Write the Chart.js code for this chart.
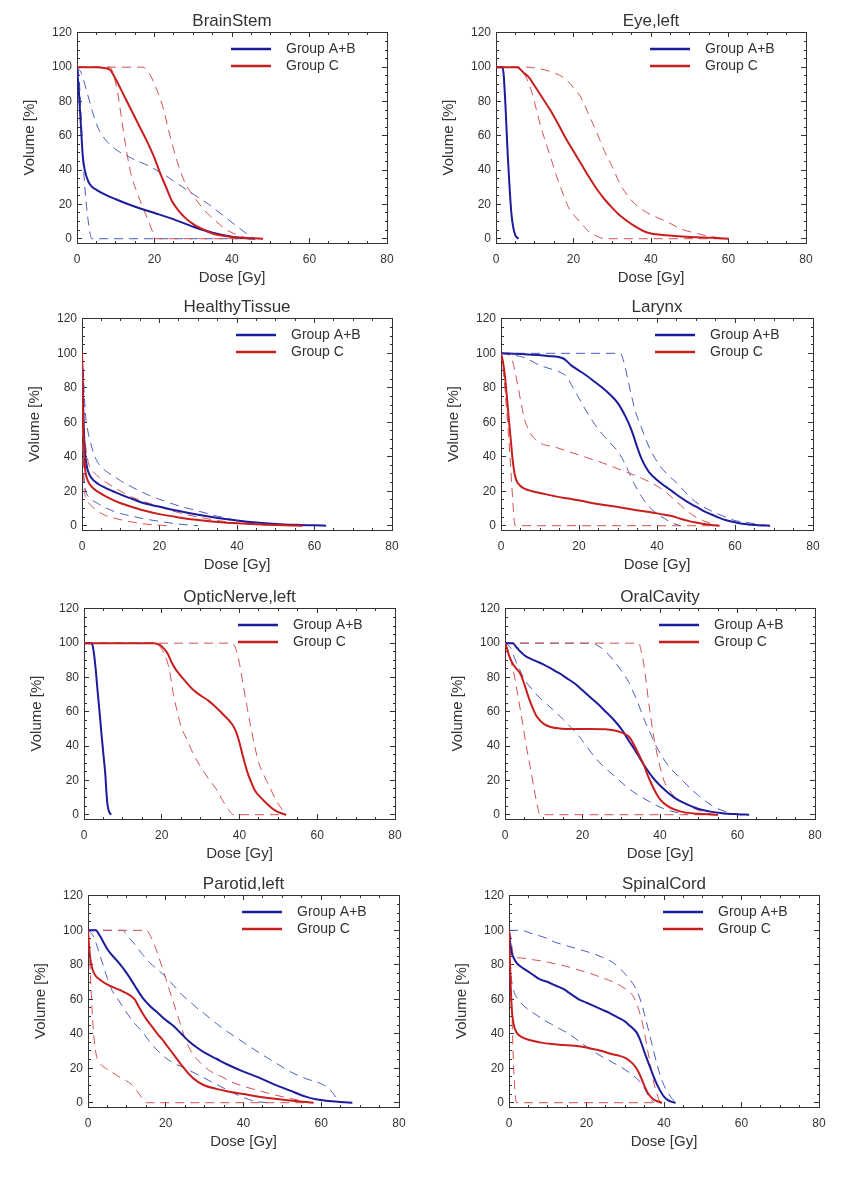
<!DOCTYPE html>
<html>
<head>
<meta charset="utf-8">
<title>DVH per organ</title>
<script src="https://cdn.jsdelivr.net/npm/chart.js@4.4.0/dist/chart.umd.min.js"></script>
<style>
  html, body { margin: 0; padding: 0; background: #fff; }
  #page { position: relative; width: 855px; height: 1177px; }
  #page canvas { position: absolute; }
</style>
</head>
<body>
<div id="page"></div>
<script>
// --- DATA: each curve is a list of [dose Gy, volume %] ---
// mean = solid line, lo / hi = dashed envelope

const brainStemMeanAB = [[0,100],[0.5,85],[1,66],[1.5,48],[2,40],[3,33],[4,30],[5,28.5],[7,26],[10,23],[15,18.6],[20,15],[25,11.3],[30,7],[35,3.5],[40,1.2],[44,0.2],[46,0]];
const brainStemLoAB = [[0,100],[0.5,95],[1,75],[1.6,44],[2.2,25],[2.8,12],[3.3,4],[3.8,0],[46,0]];
const brainStemHiAB = [[0,100],[1,97],[2,90],[3,82],[4,74],[5,67],[6,62],[8,56],[10,52],[14,47],[18,43],[22,38],[26,32],[30,26],[34,20],[38,13],[42,6],[45,1],[46,0]];
const brainStemMeanC = [[0,100],[5,100],[7,99.5],[8.5,98.5],[10,93],[12,84],[14,75],[16,66],[18,57],[20,47],[21.5,38],[23,30],[24.5,22],[26,17],[28,12],[30,8.5],[32,6],[35,3],[40,1],[45,0.3],[48,0]];
const brainStemLoC = [[0,100],[8.5,100],[9.5,95],[10.5,85],[11.5,70],[12.5,55],[14,37],[15.5,27],[17,18],[18.5,10],[19.5,4],[20.2,0],[48,0]];
const brainStemHiC = [[0,100],[17,100],[18.5,97],[20,90],[22,78],[24,60],[26,44],[28,32],[30,25],[32,19],[34,14],[36,10],[38,6],[40,3.5],[43,1],[45,0]];

const eyeMeanAB = [[0,100],[1.7,100],[2,95],[2.5,75],[3,50],[3.5,30],[4,14],[4.5,6],[5,2],[5.8,0]];
const eyeMeanC = [[0,100],[5.5,100],[7,97],[8.5,94],[10,89],[12,82],[14,75],[16,67],[18,58.5],[20,51],[22,43.5],[24,36],[26,29],[28,23],[30,18],[32,13.5],[34,10],[36,7],[38,4.5],[40,3],[44,2],[50,1],[56,0.5],[60,0]];
const eyeLoC = [[0,100],[4.9,100],[6,99],[7,97],[8,93],[9,87],[10,79],[11,70],[12,62],[13,55],[14,48],[15,41],[16,34],[17,28],[18,22],[19,17],[20,14],[22,9],[24,4],[26,1.5],[28,0],[60,0]];
const eyeHiC = [[0,100],[8,100],[10,99.5],[14,97.5],[18,93],[20,88],[22,82],[24,72],[26,62],[28,51],[30,42],[32,32],[34,25],[36,20],[38,16.5],[40,14],[44,10],[48,5.5],[52,3],[56,1],[60,0]];

const healthyMeanAB = [[0,100],[0.2,80],[0.4,60],[0.7,45],[1,38],[1.5,32],[2.5,27.5],[4,24.5],[6,22],[8,20],[10,18],[13,15.5],[16,13],[20,11],[25,8.5],[30,6.3],[35,4.5],[40,3],[45,1.8],[50,1],[55,0.5],[60,0.2],[63,0]];
const healthyLoAB = [[0,100],[0.2,60],[0.4,35],[0.7,24],[1,20],[2,16],[4,13],[6,10.5],[8,8.5],[10,7],[13,5.5],[16,4],[20,2.5],[24,1.2],[28,0.3],[30,0]];
const healthyHiAB = [[0,100],[0.3,90],[0.6,75],[1,62],[1.5,55],[2,50],[3,42],[4,37],[6,32],[8,29],[10,26],[12,23.5],[15,20],[18,17],[21,14.5],[25,11.5],[30,8.5],[35,5.5],[40,3],[45,1.2],[50,0.3],[55,0]];
const healthyMeanC = [[0,100],[0.2,70],[0.5,45],[0.8,33],[1.2,28],[2,24],[3,21.5],[5,18.5],[7,16],[10,13],[13,10.8],[16,8.8],[20,6.7],[25,4.8],[30,3.3],[35,2.2],[40,1.4],[45,0.8],[50,0.4],[55,0.1],[57,0]];
const healthyLoC = [[0,100],[0.2,50],[0.4,28],[0.7,19],[1,16],[2,12.5],[4,8.5],[6,6],[9,4],[12,2.5],[16,1],[20,0.3],[22,0]];
const healthyHiC = [[0,100],[0.3,75],[0.6,55],[1,45],[1.5,38],[2,34],[3,31],[5,27],[7,24],[10,20],[13,16.5],[16,14],[20,11],[25,7.5],[30,5],[35,3],[40,1.5],[45,0.6],[50,0.2],[55,0]];

const larynxMeanAB = [[0,100],[6,99.5],[12,98.5],[16,97],[18,93],[20,90],[22,87],[24,83.5],[26,80],[28,76],[30,71],[32,63],[33,58],[34,52],[35,45],[36,39],[37,34.5],[38,31],[40,26.5],[42,23],[44,19.8],[46,16.5],[48,13.5],[50,11],[52,8.5],[54,6.5],[56,4.5],[58,3],[60,2],[63,0.8],[66,0.3],[69,0]];
const larynxLoAB = [[0,100],[3,99],[6,97.5],[10,93],[14,90],[16,88],[17,86],[18,82],[20,74],[22,66],[24,59],[26,53],[28,48],[30,43],[32,35],[34,25],[36,17],[38,11],[40,7],[42,4],[44,1.5],[46,0]];
const larynxHiAB = [[0,100],[30.5,100],[31.5,95],[32.5,85],[33.5,75],[34.5,66],[36,57],[37.5,48],[39,41],[41,34],[43,29],[45,25],[47,20],[49,15.5],[51,12],[54,8.5],[57,5.5],[60,3],[64,1.5],[67,0.5],[69,0]];
const larynxMeanC = [[0,100],[0.5,95],[1,87],[1.5,75],[2,62],[2.5,50],[3,38],[3.5,30],[4,26],[5,23],[6,21.5],[8,20],[10,19],[14,17],[18,15.5],[22,13.8],[26,12.2],[30,10.8],[34,9.3],[38,8],[42,6.3],[44,5.5],[46,4],[48,2.8],[50,1.8],[52,1],[54,0.4],[56,0]];
const larynxLoC = [[0,100],[0.5,92],[1,80],[1.5,65],[2,50],[2.5,33],[3,15],[3.4,3],[3.6,0],[56,0]];
const larynxHiC = [[0,100],[2,99],[3,95],[4,85],[5,73],[6,62],[7,56],[8,52],[10,48],[14,45.5],[18,42.5],[22,39.5],[26,36.5],[30,33],[34,29.5],[38,25.5],[40,23],[42,20],[44,16],[46,12],[48,8],[50,5],[52,2.8],[54,1],[56,0]];

const opticMeanAB = [[0,100],[2,100],[2.5,95],[3,85],[3.5,72],[4,60],[4.5,47],[5,35],[5.5,23],[5.8,12],[6.1,5],[6.5,1.5],[7,0]];
const opticMeanC = [[0,100],[18,100],[19.5,99],[20.5,97],[21.5,94],[22.5,89],[23.5,85],[24.5,82],[26,78],[28,73],[30,69.5],[32,66.5],[34,62.5],[36,58],[38,53],[39,49],[40,42],[41,33],[42,25],[43,19],[44,14],[45.5,10],[47,6.5],[48.5,3.5],[50,1.5],[52,0]];
const opticLoC = [[0,100],[18,100],[19.5,98],[21,92],[22,84],[23,70],[24,60],[25,51],[26.5,44],[28,36],[30,28],[32,21],[34,15],[35.5,9],[37,3.5],[38.5,0],[52,0]];
const opticHiC = [[0,100],[38,100],[39,97],[40,88],[41,75],[42,62],[43,50],[44,39],[45,30],[46.5,22],[48,15],[49.5,8],[51,3],[52,0]];

const oralMeanAB = [[0,100],[2,100],[3,97.5],[4,95],[5,93],[6,91.5],[8,89.5],[10,87.5],[12,85],[14,82.5],[16,79.5],[18,76.5],[20,72.5],[22,68.5],[24,64.5],[26,60],[28,55.5],[30,50],[32,43],[34,36],[36,28.5],[38,22],[40,17],[42,13],[44,9.5],[46,7],[48,5],[50,3.3],[53,1.8],[56,0.9],[60,0.3],[63,0]];
const oralLoAB = [[0,100],[1.5,97],[2.5,91],[3.5,86],[5,79],[7,73],[9,68],[11,64],[13,60],[15,55.5],[17,51],[19,46],[21,40],[23,34],[25,29],[27,25],[29,21],[31,17],[33,13.5],[35,10.5],[37,8],[39,5.5],[41,3.5],[43,2],[45,1],[47,0]];
const oralHiAB = [[0,100],[22.5,100],[24,98.5],[26,95],[28,90],[30,84],[32,77],[33,72],[34,67],[35,61],[36,55],[37,50],[38,45],[39,40],[40,36],[42,29],[44,24],[46,19.5],[48,15],[50,11],[52,7.5],[54,4.5],[56,2.5],[58,1],[61,0]];
const oralMeanC = [[0,100],[0.5,97],[1,93],[2,88],[3,85],[4,82],[5,76],[6,69],[7,63],[8,58],[9,55],[10,53],[12,51],[14,50.3],[18,50],[22,50],[26,49.8],[28,49.2],[30,48],[31,47],[32,45.5],[33,42],[34,37.5],[35,33],[36,28],[37,22],[38,17],[39,12.5],[40,9],[42,5],[44,2.8],[46,1.5],[50,0.5],[55,0]];
const oralLoC = [[0,100],[0.8,96],[1.5,90],[2.5,80],[3.5,67],[4.5,54],[5.5,40],[6.5,28],[7.5,15],[8.3,6],[9,0],[55,0]];
const oralHiC = [[0,100],[34.5,100],[35.2,95],[35.8,88],[36.4,78],[37,67],[37.6,57],[38.2,48],[39,38],[40,28],[41,20],[42.5,14],[44,10],[46,7],[48,4.5],[50,2.5],[52,1],[54,0]];

const parotidMeanAB = [[0,100],[2,100],[3,97],[4,93],[5,89],[6,86],[8,81],[10,75],[12,68],[14,61],[16,56],[18,52],[20,48],[22,44.5],[24,40],[26,35.5],[28,32],[30,29],[33,25.5],[36,22],[40,18],[44,14.5],[48,10.5],[52,7],[56,3.5],[59,1.8],[62,1],[65,0.4],[68,0]];
const parotidLoAB = [[0,100],[1,98],[2,93],[3,86],[4,79],[5,72],[6,66],[8,59],[10,52],[12,46],[14,41],[16,35],[18,30],[20,26],[22,23],[25,20],[28,16.5],[31,13],[34,9.5],[37,6],[40,3],[43,0.8],[46,0]];
const parotidHiAB = [[0,100],[9,100],[10,97],[12,92],[14,86],[16,81],[18,77],[20,73],[22,68],[24,63],[26,59],[28,55],[30,51.5],[33,46],[36,41],[40,35],[44,29],[48,23.5],[52,18],[56,14],[60,11],[62,8],[63.5,4],[64.5,0]];
const parotidMeanC = [[0,100],[0.3,90],[0.7,82],[1.2,77],[2,73.5],[3,71.5],[5,68.5],[7,66.5],[9,64.5],[11,62],[12,60],[13,56],[14,52],[15,48.5],[16,45.5],[17,42.5],[18,39.5],[19,37],[20,34],[22,28],[24,22],[26,16.5],[28,12.5],[30,10],[33,8],[36,6.5],[40,5],[44,3.5],[48,2.3],[52,1.3],[56,0.4],[58,0]];
const parotidLoC = [[0,100],[0.3,90],[0.6,75],[0.9,60],[1.2,48],[1.6,36],[2.2,27],[3,23],[4.5,20],[6,18],[8,15],[10,12.5],[11.5,10],[12.5,7],[13.5,4],[14.5,1],[15,0],[58,0]];
const parotidHiC = [[0,100],[15,100],[16,97],[17,92],[18,86],[19,79],[20,72],[21,65],[22,58],[23,51],[24,44],[25,37],[26,32],[27,28],[29,23],[31,19],[34,15.5],[37,12],[40,9.5],[44,7],[48,4.5],[52,2.5],[56,0.5],[57,0]];

const spinalMeanAB = [[0,100],[0.3,93],[0.6,88],[1,85],[2,81],[3,79],[4,77.5],[6,74.5],[8,71.5],[10,70],[12,68],[14,66],[16,63],[18,60],[20,58],[22,56],[24,54],[26,52],[28,49.5],[30,47],[31,45],[32,43],[33,40.5],[34,35.5],[35,29],[36,23],[37,17],[38,11.5],[39,7],[40,3.5],[41,1.5],[42,0.5],[43,0]];
const spinalLoAB = [[0,100],[0.2,90],[0.5,75],[1,67],[2,61],[3,58],[5,54],[7,51],[9,48],[11,45.5],[13,43],[15,40.5],[17,37.5],[19,34],[21,31],[23,28],[25,25.5],[27,23],[29,20.5],[31,17.5],[33,14],[34.5,10],[35.5,6],[36.5,2],[37.5,0]];
const spinalHiAB = [[0,100],[3,100],[6,98],[9,96],[12,93],[15,91],[18,89],[21,87],[24,84.5],[27,81],[29,77],[31,72],[32,69],[33,65],[34,59],[35,51],[36,42],[37,33],[38,24],[39,16],[40,10],[41,6],[42,2.5],[43,0]];
const spinalMeanC = [[0,100],[0.2,85],[0.4,70],[0.7,55],[1,48],[1.5,43],[2,40.5],[3,38.5],[5,36.5],[8,35],[11,34],[14,33.5],[17,33],[20,32],[22,31],[24,30],[26,28.5],[28,27.5],[30,26],[31,24.5],[32,22.5],[33,19.5],[34,15],[35,9.5],[36,5],[37,2.5],[38,1],[39.5,0]];
const spinalLoC = [[0,100],[0.3,85],[0.6,65],[0.9,40],[1.2,20],[1.5,8],[1.8,1],[2,0],[39.5,0]];
const spinalHiC = [[0,100],[0.4,97],[0.8,90],[1.2,85],[3,84],[6,83],[9,82],[12,80.5],[15,79],[18,77],[21,75],[24,72.5],[27,70],[29,67.5],[31,64.5],[32,62],[33,57],[34,50],[35,40],[35.8,30],[36.5,22],[37.3,12],[38.2,5],[39,0]];

const panelTitles = ['BrainStem', 'Eye,left', 'HealthyTissue', 'Larynx', 'OpticNerve,left', 'OralCavity', 'Parotid,left', 'SpinalCord'];
const groupLabels = ['Group A+B', 'Group C'];
const doseRange = [0, 80];
const volumeRange = [-2.5, 120.5];
const labelStep = 20;   // labelled ticks
const minorStep = 5;    // small ticks

const curvesAB = [
  [brainStemMeanAB, brainStemLoAB, brainStemHiAB],
  [eyeMeanAB],
  [healthyMeanAB, healthyLoAB, healthyHiAB],
  [larynxMeanAB, larynxLoAB, larynxHiAB],
  [opticMeanAB],
  [oralMeanAB, oralLoAB, oralHiAB],
  [parotidMeanAB, parotidLoAB, parotidHiAB],
  [spinalMeanAB, spinalLoAB, spinalHiAB]
];
const curvesC = [
  [brainStemMeanC, brainStemLoC, brainStemHiC],
  [eyeMeanC, eyeLoC, eyeHiC],
  [healthyMeanC, healthyLoC, healthyHiC],
  [larynxMeanC, larynxLoC, larynxHiC],
  [opticMeanC, opticLoC, opticHiC],
  [oralMeanC, oralLoC, oralHiC],
  [parotidMeanC, parotidLoC, parotidHiC],
  [spinalMeanC, spinalLoC, spinalHiC]
];

// --- LAYOUT (plot box on the page: left, top, width, height) ---
const plotBoxes = [
  [77, 32, 310, 211], [496, 32, 310, 211],
  [82, 318, 310, 212], [501, 318, 312, 212],
  [84, 608, 311, 211], [505, 608, 310, 211],
  [88, 895, 311, 212], [509, 895, 310, 212]
];
const MARGIN_SIDE = 70, MARGIN_TOP = 32, MARGIN_BOTTOM = 55;

const FONT = "'Liberation Sans', Arial, sans-serif";
const INK = '#333';
const styleAB = { solid: '#1c1c9c', dash: '#4b5dc0' };
const styleC = { solid: '#c81e1e', dash: '#d45252' };

Chart.defaults.font.family = FONT;
Chart.defaults.color = INK;

function toPoints(pairs) {
  return pairs.map(p => ({ x: p[0], y: p[1] }));
}

function buildDatasets(ab, c) {
  const ds = [];
  [[ab, styleAB, groupLabels[0], 0], [c, styleC, groupLabels[1], 1]].forEach(([curves, st, label, gi]) => {
    curves.forEach((curve, ci) => {
      const solid = ci === 0;
      ds.push({
        data: toPoints(curve),
        borderColor: solid ? st.solid : st.dash,
        borderWidth: solid ? 2 : 1,
        borderDash: solid ? [] : [9, 6],
        legendLabel: solid ? label : null,
        order: solid ? 1 - gi : 3 - gi
      });
    });
  });
  return ds;
}

// short ticks between labelled ones; dash pattern starts either at the axis or inside the box
function tickDash(fromAxis) {
  return ctx => {
    if (!ctx.tick || ctx.tick.value % labelStep === 0) return [];
    return fromAxis ? [3, 20] : [0, 2, 3, 20];
  };
}

function axis(position, range, opts) {
  const horizontal = position === 'top' || position === 'bottom';
  const fromAxis = position === 'bottom' || position === 'right';
  return Object.assign({
    type: 'linear',
    position: position,
    min: range[0],
    max: range[1],
    grid: {
      drawOnChartArea: false,
      drawTicks: true,
      tickLength: -5,
      tickColor: INK,
      tickWidth: 1,
      tickBorderDash: tickDash(fromAxis)
    },
    border: { display: true, color: INK, width: 1 },
    ticks: { display: false, stepSize: minorStep, autoSkip: false, includeBounds: false, maxRotation: 0 },
    afterFit: s => {
      if (horizontal) s.height = position === 'bottom' ? MARGIN_BOTTOM : 0;
      else s.width = MARGIN_SIDE;
    }
  }, opts || {});
}

const groupLegend = {
  id: 'groupLegend',
  afterDatasetsDraw(chart) {
    const { ctx, chartArea } = chart;
    let row = 0;
    ctx.save();
    ctx.font = '14px ' + FONT;
    ctx.textBaseline = 'middle';
    ctx.textAlign = 'left';
    chart.data.datasets.forEach(ds => {
      if (!ds.legendLabel) return;
      const y = chartArea.top + 17 + row * 17;
      ctx.strokeStyle = ds.borderColor;
      ctx.lineWidth = 2.5;
      ctx.beginPath();
      ctx.moveTo(chartArea.left + 154, y);
      ctx.lineTo(chartArea.left + 194, y);
      ctx.stroke();
      ctx.fillStyle = INK;
      ctx.fillText(ds.legendLabel, chartArea.left + 209, y);
      row++;
    });
    ctx.restore();
  }
};

function makePanel(i) {
  const [left, top, w, h] = plotBoxes[i];
  const canvas = document.createElement('canvas');
  canvas.width = w + 2 * MARGIN_SIDE;
  canvas.height = h + MARGIN_TOP + MARGIN_BOTTOM;
  canvas.style.left = (left - MARGIN_SIDE) + 'px';
  canvas.style.top = (top - MARGIN_TOP) + 'px';
  canvas.style.width = canvas.width + 'px';
  canvas.style.height = canvas.height + 'px';
  document.getElementById('page').appendChild(canvas);

  const labelEvery = v => (v % labelStep === 0 ? v : '');

  new Chart(canvas, {
    type: 'line',
    data: { datasets: buildDatasets(curvesAB[i], curvesC[i]) },
    options: {
      responsive: false,
      animation: false,
      layout: { padding: 0 },
      elements: {
        point: { radius: 0, hoverRadius: 0 },
        line: { cubicInterpolationMode: 'monotone', fill: false }
      },
      plugins: {
        legend: { display: false },
        tooltip: { enabled: false },
        title: {
          display: true,
          text: panelTitles[i],
          color: INK,
          font: { size: 17, weight: 'normal', lineHeight: '18px' },
          padding: { top: 12, bottom: 2 }
        }
      },
      scales: {
        x: axis('bottom', doseRange, {
          ticks: { display: true, stepSize: minorStep, autoSkip: false, includeBounds: false, maxRotation: 0, padding: 14.5, font: { size: 12 }, color: INK, callback: labelEvery },
          title: { display: true, text: 'Dose [Gy]', color: INK, font: { size: 15, lineHeight: 1.2 }, padding: { top: 0, bottom: 11 } }
        }),
        x2: axis('top', doseRange),
        y: axis('left', volumeRange, {
          ticks: { display: true, stepSize: minorStep, autoSkip: false, includeBounds: false, padding: 10, font: { size: 12 }, color: INK, callback: labelEvery },
          title: { display: true, text: 'Volume [%]', color: INK, font: { size: 15, lineHeight: 1.2 }, padding: { top: 14, bottom: 0 } }
        }),
        y2: axis('right', volumeRange)
      }
    },
    plugins: [groupLegend]
  });
}

panelTitles.forEach((t, i) => makePanel(i));
</script>
</body>
</html>
